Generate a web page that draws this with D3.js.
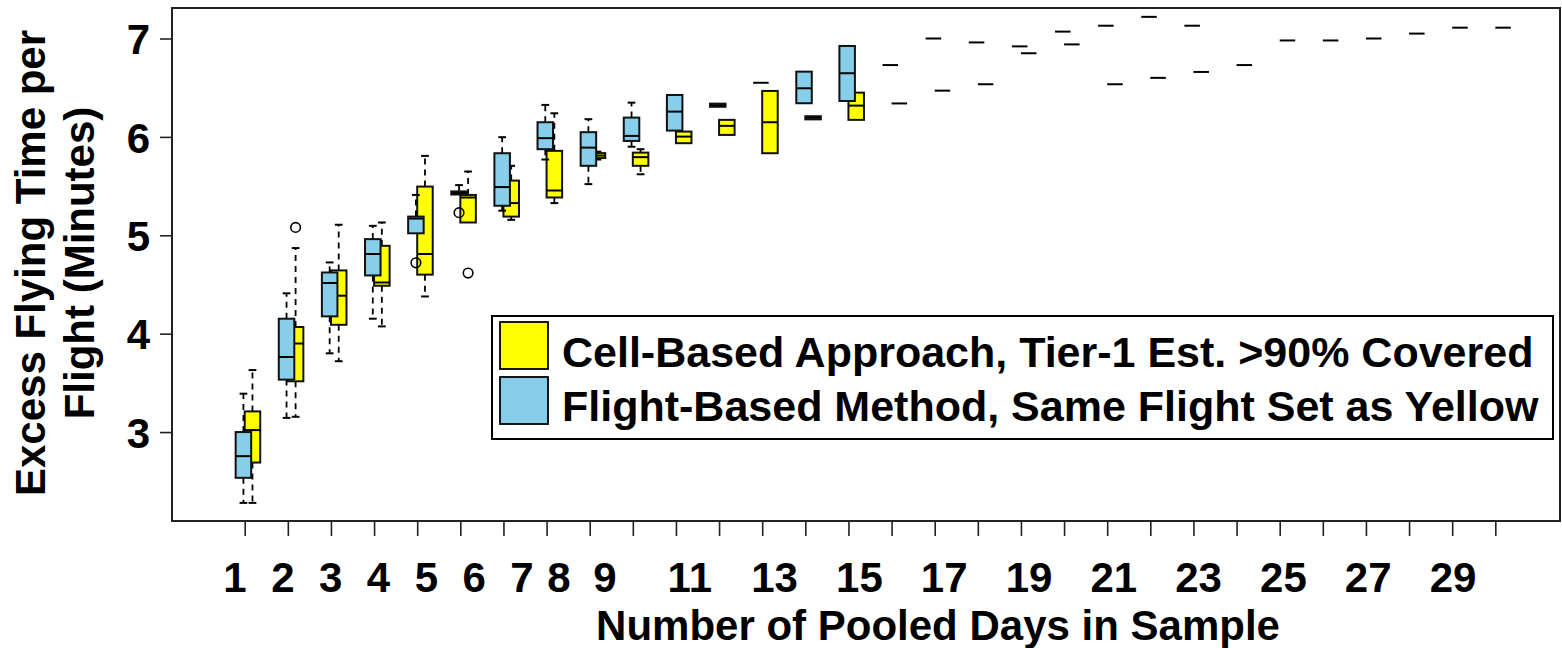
<!DOCTYPE html>
<html>
<head>
<meta charset="utf-8">
<script src="https://cdn.jsdelivr.net/npm/d3@7"></script>
<style>
  html, body { margin: 0; padding: 0; background: #fff; }
  svg text { font-family: "Liberation Sans", Arial, sans-serif; font-weight: bold; fill: #000; }
</style>
</head>
<body>
<svg id="chart" width="1562" height="648"></svg>
<script>
// ---------- DATA ----------
const groups = d3.range(1, 31);
const xTickLabels = [1, 2, 3, 4, 5, 6, 7, 8, 9, 11, 13, 15, 17, 19, 21, 23, 25, 27, 29];
const yTickValues = [3, 4, 5, 6, 7];

// Flight-Based Method (blue): [whiskerLow, q1, median, q3, whiskerHigh]
const blueStats = [
  [2.28, 2.535, 2.755, 3.00, 3.39],
  [3.144, 3.533, 3.763, 4.152, 4.41],
  [3.80, 4.176, 4.515, 4.622, 4.724],
  [4.152, 4.592, 4.81, 4.961, 5.096],
  [5.02, 5.02, 5.17, 5.19, 5.41],
  [5.414, 5.414, 5.43, 5.446, 5.51],
  [5.25, 5.30, 5.49, 5.834, 5.997],
  [5.77, 5.875, 5.987, 6.149, 6.325],
  [5.52, 5.706, 5.891, 6.048, 6.18],
  [5.90, 5.959, 6.01, 6.196, 6.348],
  [6.064, 6.064, 6.257, 6.426, 6.426],
  [6.306, 6.306, 6.322, 6.338, 6.338],
  [6.55, 6.55, 6.55, 6.55, 6.55],
  [6.342, 6.342, 6.494, 6.663, 6.663],
  [6.365, 6.365, 6.647, 6.924, 6.924],
  [6.73, 6.73, 6.73, 6.73, 6.73],
  [7.00, 7.00, 7.00, 7.00, 7.00],
  [6.96, 6.96, 6.96, 6.96, 6.96],
  [6.92, 6.92, 6.92, 6.92, 6.92],
  [7.07, 7.07, 7.07, 7.07, 7.07],
  [7.13, 7.13, 7.13, 7.13, 7.13],
  [7.22, 7.22, 7.22, 7.22, 7.22],
  [7.13, 7.13, 7.13, 7.13, 7.13],
  null, null, null, null, null, null, null
];
const blueOutliers = [[], [], [], [], [4.72], [5.23]];

// Cell-Based Approach (yellow): [whiskerLow, q1, median, q3, whiskerHigh]
const yellowStats = [
  [2.28, 2.69, 3.02, 3.21, 3.63],
  [3.155, 3.516, 3.90, 4.068, 4.87],
  [3.72, 4.09, 4.386, 4.643, 5.107],
  [4.074, 4.487, 4.52, 4.893, 5.13],
  [4.378, 4.60, 4.81, 5.495, 5.807],
  [5.13, 5.13, 5.384, 5.41, 5.648],
  [5.157, 5.19, 5.327, 5.556, 5.706],
  [5.327, 5.384, 5.455, 5.858, 6.24],
  [5.77, 5.785, 5.81, 5.835, 5.85],
  [5.62, 5.706, 5.794, 5.84, 5.875],
  [5.936, 5.936, 6.003, 6.054, 6.054],
  [6.02, 6.02, 6.112, 6.173, 6.173],
  [5.834, 5.834, 6.149, 6.467, 6.467],
  [6.178, 6.178, 6.194, 6.21, 6.21],
  [6.173, 6.173, 6.318, 6.45, 6.45],
  [6.34, 6.34, 6.34, 6.34, 6.34],
  [6.47, 6.47, 6.47, 6.47, 6.47],
  [6.535, 6.535, 6.535, 6.535, 6.535],
  [6.85, 6.85, 6.85, 6.85, 6.85],
  [6.94, 6.94, 6.94, 6.94, 6.94],
  [6.535, 6.535, 6.535, 6.535, 6.535],
  [6.60, 6.60, 6.60, 6.60, 6.60],
  [6.66, 6.66, 6.66, 6.66, 6.66],
  [6.73, 6.73, 6.73, 6.73, 6.73],
  [6.98, 6.98, 6.98, 6.98, 6.98],
  [6.98, 6.98, 6.98, 6.98, 6.98],
  [7.00, 7.00, 7.00, 7.00, 7.00],
  [7.05, 7.05, 7.05, 7.05, 7.05],
  [7.11, 7.11, 7.11, 7.11, 7.11],
  [7.11, 7.11, 7.11, 7.11, 7.11]
];
const yellowOutliers = [[], [5.08], [], [], [], [4.616]];

const legendLabels = [
  "Cell-Based Approach, Tier-1 Est. >90% Covered",
  "Flight-Based Method, Same Flight Set as Yellow"
];
const xTitle = "Number of Pooled Days in Sample";
const yTitleLines = ["Excess Flying Time per", "Flight (Minutes)"];

// ---------- LAYOUT ----------
const plot = { left: 172, right: 1560, top: 8, bottom: 521 };
const colors = { blue: "#87CEEB", yellow: "#FFFF00" };
const boxW = 0.36;
const series = [
  { name: "yellow", stats: yellowStats, outliers: yellowOutliers, offset: 0.18, color: colors.yellow },
  { name: "blue", stats: blueStats, outliers: blueOutliers, offset: -0.03, color: colors.blue }
];

const svg = d3.select("#chart");
const x = d3.scaleLinear().domain([-0.686, 31.5]).range([plot.left, plot.right]);
const y = d3.scaleLinear().domain([2.096, 7.31]).range([plot.bottom, plot.top]);
// the original figure's tick labels sit on their own (slightly uneven) label axis
const xLabelScale = d3.scaleLinear().domain([1, 7, 8, 9, 29]).range([235, 522, 559, 605, 1453]);

// axes
const xAxis = svg.append("g")
  .attr("transform", `translate(0,${plot.bottom})`)
  .call(d3.axisBottom(x).tickValues(groups).tickSize(15).tickFormat(""));
xAxis.select(".domain").remove();
xAxis.selectAll(".tick line").attr("stroke", "#222").attr("stroke-width", 1.6);
svg.append("g").selectAll("text").data(xTickLabels).join("text")
  .attr("x", d => xLabelScale(d)).attr("y", plot.bottom + 71)
  .attr("text-anchor", "middle").style("font-size", "42px").text(d => d);

const yAxis = svg.append("g")
  .attr("transform", `translate(${plot.left},0)`)
  .call(d3.axisLeft(y).tickValues(yTickValues).tickSize(12).tickFormat(d3.format("d")));
yAxis.select(".domain").remove();
yAxis.selectAll(".tick line").attr("stroke", "#222").attr("stroke-width", 1.6);
yAxis.selectAll(".tick text").attr("x", -22).attr("dy", "0.36em")
  .style("font-size", "42px");

// boxes
const bw = x(boxW) - x(0);
series.forEach(s => {
  const g = svg.append("g");
  s.stats.forEach((st, i) => {
    if (!st) return;
    const cx = x(groups[i] + s.offset);
    const [lo, q1, med, q3, hi] = st;
    if (hi > q3) {
      g.append("line").attr("x1", cx).attr("x2", cx).attr("y1", y(q3)).attr("y2", y(hi))
        .attr("stroke", "#000").attr("stroke-width", 1.8).attr("stroke-dasharray", "6,5");
      g.append("line").attr("x1", cx - bw / 4).attr("x2", cx + bw / 4).attr("y1", y(hi)).attr("y2", y(hi))
        .attr("stroke", "#000").attr("stroke-width", 2);
    }
    if (lo < q1) {
      g.append("line").attr("x1", cx).attr("x2", cx).attr("y1", y(q1)).attr("y2", y(lo))
        .attr("stroke", "#000").attr("stroke-width", 1.8).attr("stroke-dasharray", "6,5");
      g.append("line").attr("x1", cx - bw / 4).attr("x2", cx + bw / 4).attr("y1", y(lo)).attr("y2", y(lo))
        .attr("stroke", "#000").attr("stroke-width", 2);
    }
    g.append("rect").attr("x", cx - bw / 2).attr("width", bw)
      .attr("y", y(q3)).attr("height", Math.max(0, y(q1) - y(q3)))
      .attr("fill", s.color).attr("stroke", "#111").attr("stroke-width", 2);
    g.append("line").attr("x1", cx - bw / 2).attr("x2", cx + bw / 2).attr("y1", y(med)).attr("y2", y(med))
      .attr("stroke", "#000").attr("stroke-width", 2);
    (s.outliers[i] || []).forEach(o => {
      g.append("circle").attr("cx", cx).attr("cy", y(o)).attr("r", 4.8)
        .attr("fill", "none").attr("stroke", "#000").attr("stroke-width", 1.6);
    });
  });
});

// frame
svg.append("rect").attr("x", plot.left).attr("y", plot.top)
  .attr("width", plot.right - plot.left).attr("height", plot.bottom - plot.top)
  .attr("fill", "none").attr("stroke", "#222").attr("stroke-width", 2);

// titles
svg.append("text").attr("x", 938).attr("y", 640)
  .attr("text-anchor", "middle").style("font-size", "42px").text(xTitle);
yTitleLines.forEach((t, i) => {
  svg.append("text")
    .attr("transform", `translate(${45 + i * 49},263) rotate(-90)`)
    .attr("text-anchor", "middle").style("font-size", "42px").text(t);
});

// legend
const lg = svg.append("g");
lg.append("rect").attr("x", 492).attr("y", 316).attr("width", 1061).attr("height", 123)
  .attr("fill", "#fff").attr("stroke", "#000").attr("stroke-width", 2);
[colors.yellow, colors.blue].forEach((c, i) => {
  lg.append("rect").attr("x", 500).attr("y", 322 + i * 55).attr("width", 48).attr("height", 47)
    .attr("fill", c).attr("stroke", "#000").attr("stroke-width", 1.8);
  lg.append("text").attr("x", 562).attr("y", 367 + i * 54).style("font-size", "43px").text(legendLabels[i]);
});
</script>
</body>
</html>
